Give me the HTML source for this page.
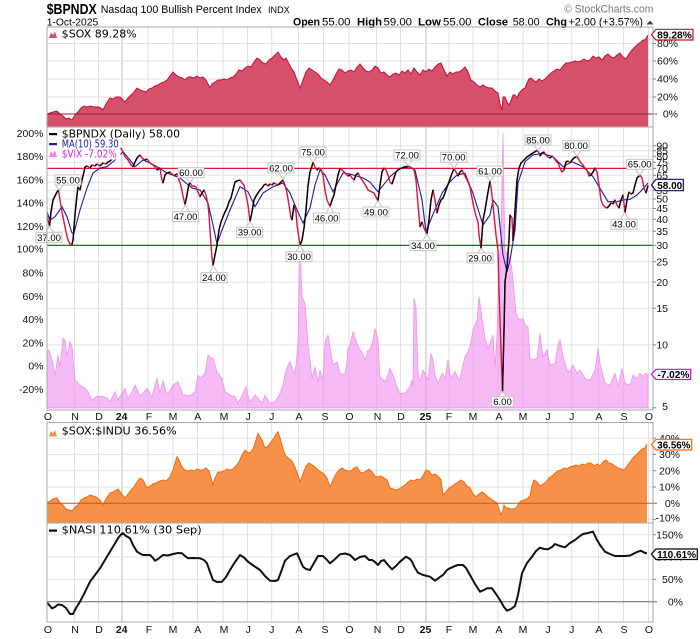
<!DOCTYPE html>
<html><head><meta charset="utf-8"><style>
html,body{margin:0;padding:0;background:#fff;}
svg{display:block;}
.ax{font-family:"Liberation Sans",Arial,sans-serif;font-size:10.5px;fill:#111;}
.lg{font-family:"DejaVu Sans","Liberation Sans",sans-serif;font-size:11px;}
.cl{font-family:"Liberation Sans",Arial,sans-serif;font-size:9.5px;fill:#000;text-anchor:middle;}
.vb{font-family:"Liberation Sans",Arial,sans-serif;font-size:10.5px;font-weight:bold;fill:#000;text-anchor:middle;}
</style></head><body>
<svg width="700" height="639" viewBox="0 0 700 639" xmlns="http://www.w3.org/2000/svg">
<rect width="700" height="639" fill="#fff"/>

<!-- Header -->
<g font-family="Liberation Sans, Arial, sans-serif" fill="#000">
<text x="46.7" y="14" font-size="14.5" font-weight="bold" textLength="50" lengthAdjust="spacingAndGlyphs">$BPNDX</text>
<text x="100.7" y="12.8" font-size="11" textLength="161" lengthAdjust="spacingAndGlyphs">Nasdaq 100 Bullish Percent Index</text>
<text x="268" y="12.8" font-size="9" textLength="21.7" lengthAdjust="spacingAndGlyphs">INDX</text>
<text x="46.7" y="25.5" font-size="10.5" textLength="51.5" lengthAdjust="spacingAndGlyphs">1-Oct-2025</text>
<text x="293" y="25.6" font-size="11" font-weight="bold" textLength="27" lengthAdjust="spacingAndGlyphs">Open</text>
<text x="322" y="25.6" font-size="11" textLength="28.5" lengthAdjust="spacingAndGlyphs">55.00</text>
<text x="357" y="25.6" font-size="11" font-weight="bold" textLength="25" lengthAdjust="spacingAndGlyphs">High</text>
<text x="383.5" y="25.6" font-size="11" textLength="28.5" lengthAdjust="spacingAndGlyphs">59.00</text>
<text x="418" y="25.6" font-size="11" font-weight="bold" textLength="23" lengthAdjust="spacingAndGlyphs">Low</text>
<text x="443" y="25.6" font-size="11" textLength="28.5" lengthAdjust="spacingAndGlyphs">55.00</text>
<text x="478" y="25.6" font-size="11" font-weight="bold" textLength="30" lengthAdjust="spacingAndGlyphs">Close</text>
<text x="512.7" y="25.6" font-size="11" textLength="27" lengthAdjust="spacingAndGlyphs">58.00</text>
<text x="546" y="25.6" font-size="11" font-weight="bold" textLength="21" lengthAdjust="spacingAndGlyphs">Chg</text>
<text x="568.5" y="25.6" font-size="11" textLength="74.5" lengthAdjust="spacingAndGlyphs">+2.00 (+3.57%)</text>
<polygon points="646.5,24.5 650,20.5 653.5,24.5" fill="#444"/>
<text x="564.3" y="12.3" font-size="11" fill="#777" textLength="89" lengthAdjust="spacingAndGlyphs">© StockCharts.com</text>
</g>

<!-- Vertical gridlines -->
<path d="M74.5,27V410M98.5,27V410M148,27V410M173,27V410M197.5,27V410M223,27V410M247.5,27V410M271.7,27V410M298.5,27V410M323.5,27V410M349,27V410M376.5,27V410M400.5,27V410M449,27V410M473,27V410M498,27V410M523,27V410M548,27V410M571.7,27V410M598.5,27V410M623.5,27V410M648.5,27V410
M74.5,422.5V622M98.5,422.5V622M148,422.5V622M173,422.5V622M197.5,422.5V622M223,422.5V622M247.5,422.5V622M271.7,422.5V622M298.5,422.5V622M323.5,422.5V622M349,422.5V622M376.5,422.5V622M400.5,422.5V622M449,422.5V622M473,422.5V622M498,422.5V622M523,422.5V622M548,422.5V622M571.7,422.5V622M598.5,422.5V622M623.5,422.5V622M648.5,422.5V622" stroke="#e2e2e2" stroke-width="1" fill="none"/>
<path d="M122,27V410M426,27V410M122,422.5V622M426,422.5V622" stroke="#bdbdbd" stroke-width="1" fill="none"/>

<!-- Horizontal gridlines -->
<path d="M47,43.5H653M47,61H653M47,79H653M47,97H653
M47,145.7H653M47,150.8H653M47,156.3H653M47,162.2H653M47,175.2H653M47,182.4H653M47,190.3H653M47,199H653M47,208.5H653M47,219.2H653M47,231.3H653M47,261.8H653M47,282.1H653M47,308.2H653M47,344.9H653M47,407.8H653
M47,438.1H653M47,454.4H653M47,470.7H653M47,487H653M47,519.6H653
M47,534.7H653M47,557H653M47,579.4H653" stroke="#e2e2e2" stroke-width="1" fill="none"/>

<!-- TOP PANEL: $SOX -->
<polygon fill="#d6506a" points="47,127 47,114 50,113 53,112 57,111 60,114 63,116 66,119 69,118 72,120 75,115 78,112 81,108 84,106 87,107 90,106 94,107 98,107 101,108 103,110 106,104 110,98 113,99 116,97 120,97 122,99 125,102 128,98 131,95 134,92 137,88 140,90 143,91 146,92 149,89 152,88 155,86 158,85 161,83 164,82 167,80 170,76 173,72 176,75 179,77 182,78 185,80 188,77 191,77 194,78 197,76 200,78 203,77 206,80 208,84 210,88 212,84 215,82 218,80 221,80 224,79 227,80 230,78 233,77 236,74 239,70 242,71 245,68 248,66 251,67 254,62 257,58 260,60 263,63 266,64 269,60 272,58 275,55 278,52 281,57 284,60 286,58 288,62 291,68 294,72 297,80 300,88 303,80 306,72 309,68 312,70 315,72 318,74 321,78 324,80 327,82 330,85 333,80 336,74 339,69 342,70 345,73 348,71 351,70 354,72 357,67 360,64 363,68 366,71 369,72 372,70 375,66 378,68 381,73 384,72 387,75 390,77 393,74 396,73 399,75 402,71 405,73 408,70 411,74 414,68 417,72 420,75 423,70 426,72 429,69 432,71 435,67 438,64 441,63 444,70 447,76 450,72 453,74 456,72 459,72 462,70 465,67 468,72 471,80 474,82 477,85 480,87 483,85 486,87 489,88 492,88 495,91 498,93 500,104 502,110 503,97 505,97 507,102 509,105 511,101 513,95 515,95 517,98 519,93 521,91 523,89 525,88 527,83 529,79 531,78 533,80 536,82 539,79 542,81 545,79 548,76 551,73 554,71 557,69 560,70 563,66 566,63 569,63 572,62 575,61 578,62 581,61 584,59 587,61 590,60 593,56 596,58 599,57 602,60 605,56 608,54 611,57 614,58 617,55 620,53 623,57 626,59 629,54 632,50 635,47 638,44 641,42 643,40 645,40 648,35 648,127"/>
<polyline fill="none" stroke="#c0103a" stroke-width="1" points="47,114 50,113 53,112 57,111 60,114 63,116 66,119 69,118 72,120 75,115 78,112 81,108 84,106 87,107 90,106 94,107 98,107 101,108 103,110 106,104 110,98 113,99 116,97 120,97 122,99 125,102 128,98 131,95 134,92 137,88 140,90 143,91 146,92 149,89 152,88 155,86 158,85 161,83 164,82 167,80 170,76 173,72 176,75 179,77 182,78 185,80 188,77 191,77 194,78 197,76 200,78 203,77 206,80 208,84 210,88 212,84 215,82 218,80 221,80 224,79 227,80 230,78 233,77 236,74 239,70 242,71 245,68 248,66 251,67 254,62 257,58 260,60 263,63 266,64 269,60 272,58 275,55 278,52 281,57 284,60 286,58 288,62 291,68 294,72 297,80 300,88 303,80 306,72 309,68 312,70 315,72 318,74 321,78 324,80 327,82 330,85 333,80 336,74 339,69 342,70 345,73 348,71 351,70 354,72 357,67 360,64 363,68 366,71 369,72 372,70 375,66 378,68 381,73 384,72 387,75 390,77 393,74 396,73 399,75 402,71 405,73 408,70 411,74 414,68 417,72 420,75 423,70 426,72 429,69 432,71 435,67 438,64 441,63 444,70 447,76 450,72 453,74 456,72 459,72 462,70 465,67 468,72 471,80 474,82 477,85 480,87 483,85 486,87 489,88 492,88 495,91 498,93 500,104 502,110 503,97 505,97 507,102 509,105 511,101 513,95 515,95 517,98 519,93 521,91 523,89 525,88 527,83 529,79 531,78 533,80 536,82 539,79 542,81 545,79 548,76 551,73 554,71 557,69 560,70 563,66 566,63 569,63 572,62 575,61 578,62 581,61 584,59 587,61 590,60 593,56 596,58 599,57 602,60 605,56 608,54 611,57 614,58 617,55 620,53 623,57 626,59 629,54 632,50 635,47 638,44 641,42 643,40 645,40 648,35"/>
<line x1="47" y1="114" x2="657" y2="114" stroke="#8a2040" stroke-width="1"/>

<!-- MAIN PANEL: VIX area -->
<path fill="#ee82ee" fill-opacity="0.55" stroke="#ee82ee" stroke-opacity="0.8" stroke-width="0.8" d="M47,408 L47,351.7 49,350 52,360 55,375 58,355 60,366.7 63,338.3 65,340 67,356.7 70,341.7 72,346.7 75,380 78,383 82,386.7 85,388 88,391.7 92,400 97,396 103,396.7 107,398 110,401.7 115,391.7 118,400 121,395 125,388.3 128,398.3 132,392 135,385 140,396 144,392 147,388.3 152,396.7 155,385 157,378.3 160,393.3 163,380 166,392 168,393.3 173,385 178,381.7 183,395 187,395 190,396 195,391.7 198,375 200,378 202,376.7 205,373.3 208,355 211,358 213,358.3 217,371.7 222,378.3 225,391.7 230,395 235,396.7 238,403.3 243,393.3 246,386.7 248,395 250,401.7 255,395 258,398 262,403.3 265,395 270,403.3 275,401.7 280,393.3 283,385 285,375 288,365 290,361.7 293,370 295,373.3 297,355 298,340 299,290 300,257 301,270 302,296.7 305,303.3 308,343.3 310,360 312,378.3 315,366.7 318,381.7 320,370 323,380 325,341.7 328,335 330,346.7 333,365 337,361.7 340,373.3 345,375 347,360 348,348.3 350,345 353,331.7 357,343.3 360,350 362,351.7 365,360 368,350 370,350 373,340 375,328.3 378,340 380,376.7 385,381.7 388,375 390,368.3 393,375 397,386.7 400,393.3 405,393.3 410,386.7 412,380 413,386.7 414,298.3 416,306.7 418,373.3 420,381.7 423,370 425,373.3 428,380 431,353.3 433,360 435,375 438,383.3 442,373.3 445,378.3 448,360 450,375 452,376.7 455,371.7 458,378 460,380 463,365 465,356.7 468,352 470,346.7 473,330 475,325 477,320 479,296.7 481,310 482,318.3 485,338.3 488,348.3 490,343.3 493,335 495,366.7 497,336.7 499,262 501,240 502,180 503,133 504,200 505,250 507,255 510,258 512,270 513,280 516,313.3 518,318 520,320 523,318.3 525,325 528,326.7 530,358.3 533,360 537,358.3 540,333.3 543,356.7 547,350 550,365 555,363.3 558,345 560,340 563,356.7 567,370 570,371.7 573,365 577,373.3 580,370 585,378.3 590,380 595,370 598,348.3 600,363.3 605,383.3 610,385 615,373.3 618,386.7 622,368.3 625,383.3 630,385 633,375 637,378.3 640,373.3 643,376.7 645,373.3 648,374.3 L648,408 Z"/>

<!-- reference lines -->
<line x1="47" y1="168.4" x2="653" y2="168.4" stroke="#dc143c" stroke-width="1.2"/>
<line x1="47" y1="245.3" x2="653" y2="245.3" stroke="#0b5a0b" stroke-width="1.1"/>

<!-- MA(10) -->
<polyline fill="none" stroke="#1c1c9c" stroke-width="1.1" points="47,212 50,220 55,216.7 62,206.7 67,216.7 72,233 74,233 80,210 87,188 93,173 100,168 107,166.7 115,160 123,151.7 130,160 135,166.7 143,160 150,163 157,166.7 167,173 180,178 192,188 200,190 208,203 213,225 217,244 222,230 230,210 240,186.7 248,191.7 255,206.7 263,193 273,186.7 283,183 290,193 297,210 303,223 310,208 315,185 320,170 325,175 333,191.7 343,173 350,174 363,178 370,182 378,191.7 390,176.7 400,168.3 410,166.7 415,170 422,200 426,231.7 432,216.7 442,193.3 450,181.7 457,175 465,173.3 473,193.3 483,225 490,215 493,200 498,206.7 503,255 507,272 510,260 515,230 518,183 525,161.7 533,155 542,153.3 553,156.7 563,166.7 572,161.7 583,166.7 593,176.7 602,191.7 608,201.7 617,201.7 623,200 630,199.3 637,195 642,190 648,183"/>

<!-- BPNDX base (red = down) -->
<polyline fill="none" stroke="#e0103c" stroke-width="1.4" stroke-linejoin="round" points="47,215 48,220 49.5,226.3 51,212 53,200 55,196 57,192 58.5,190.3 60,200 62,212 64,222 66,232 68,240 70,244 72,244.5 73,240 75,215 77,195 78,187 80,190 82,180 84,172 85,167 87,166 90,168 92,165 95,166 97,164 100,166 103,163 106,164 108,162 110,161 113,158 116,152 119,149 121,148.3 123,152 125,156.7 128,160 131,165 133,166.7 135,162 137,158 140,155 142,158 145,160 147,159 150,163 153,165 155,167 157,170 160,168 161.5,178 163,183 165,175 167,173 170,172 173,175 175,175 177,174 179,180 181,186 183,196 185,204.6 187,195 188.5,186 190,182.4 192,186 194,186 196,187 198,192 200,196.7 202,193 204,190 206,195 208,205 209,215 210,230 211,245 212,258 213,265.5 215,255 217,245 219,230 221,222 223,216.7 225,212 227,208 229,202 231,198 233,190 235,182 237,181 240,180 242,183 244,185 246,195 248,205 250,221.5 252,212 254,200 256,196 258,193 260,190 262,188 264,185 266,184 268,186 270,184 272,185 274,183 276,184 278,185 280,183 283,180 285,185 287,193 289,205 291,218 292,220 294,205 296,212 297,225 299,238 300,245.3 302,240 304,228 306,210 308,186 310,172 312,166 313,162.2 315,167 317,170 319,168 321,169 323,175 325,190 327,200 330,206.5 332,200 334,195 336,185 338,175 340,168.3 342,170 344,172 346,174 348,176 350,175 352,178 354,180 356,175 358,173 360,177 362,180 364,183 366,186 368,190 370,191 372,192 374,193 376,197 378,200.8 380,185 382,172 384,168 386,170 388,175 390,182 392,184 394,178 396,172 398,170 400,169 402,168 404,167 406,167 408,165.9 410,167 412,168 414,170 416,180 418,205 420,226.7 422,222 424,228 427,233.9 429,220 431,200 433,190 435,200 437,213 439,205 441,200 443,198 445,193 447,187 449,182 451,176 454,168.4 456,172 458,176 460,172 462,170 464,174 466,178 468,182 470,187 472,198 474,208 476,216 478,222 479,235 481,248.4 483,220 485,210 487,198 490,180.9 492,195 494,215 496,235 498,250 499,290 501,350 502.5,391.3 504,330 505,282 507,267 509,240 510,215 512,218 513,241 515,210 517,180 519,168 521,163 524,160 527,157 530,155 533,153 536,151 538,150.8 540,156 542,153 544,152 546,155 548,157 550,158 552,156 554,158 556,161 558,163 560,168 562,172 564,170 566,162 568,161 570,163 572,160 574,158 577,156.3 579,160 581,163 583,165 585,168 587,170 589,176 591,175 593,172 595,168 597,172 599,185 601,200 603,205 605,207 607,208 609,206 611,203 613,204 615,200 617,205 619,208 621,200 623,195 625,212.6 627,200 629,192 631,194 633,193 635,185 637,178 639,176 640,175.2 642,178 644,188 646,193 648,185.5"/>
<!-- BPNDX up runs (black) -->
<path fill="none" stroke="#000" stroke-width="1.4" stroke-linejoin="round" d="M49.5,226.3L51,212L53,200L55,196L57,192L58.5,190.3
M72,244.5L73,240L75,215L77,195L78,187
M80,190L82,180L84,172L85,167L87,166
M90,168L92,165 M95,166L97,164 M100,166L103,163
M106,164L108,162L110,161L113,158L116,152L119,149L121,148.3
M133,166.7L135,162L137,158L140,155
M145,160L147,159 M157,170L160,168
M163,183L165,175L167,173L170,172
M175,175L177,174
M185,204.6L187,195L188.5,186L190,182.4
M200,196.7L202,193L204,190
M213,265.5L215,255L217,245L219,230L221,222L223,216.7L225,212L227,208L229,202L231,198L233,190L235,182L237,181L240,180
M250,221.5L252,212L254,200L256,196L258,193L260,190L262,188L264,185L266,184
M268,186L270,184 M272,185L274,183 M278,185L280,183L283,180
M292,220L294,205
M300,245.3L302,240L304,228L306,210L308,186L310,172L312,166L313,162.2
M317,170L319,168
M330,206.5L332,200L334,195L336,185L338,175L340,168.3
M348,176L350,175 M354,180L356,175L358,173
M378,200.8L380,185L382,172L384,168
M392,184L394,178L396,172L398,170L400,169L402,168L404,167L406,167L408,165.9
M420,226.7L422,222
M427,233.9L429,220L431,200L433,190
M437,213L439,205L441,200L443,198L445,193L447,187L449,182L451,176L454,168.4
M458,176L460,172L462,170
M481,248.4L483,220L485,210L487,198L490,180.9
M502.5,391.3L504,330L505,282L507,267L509,240L510,215
M513,241L515,210L517,180L519,168L521,163L524,160L527,157L530,155L533,153L536,151L538,150.8
M540,156L542,153L544,152 M550,158L552,156
M564,170L566,162L568,161
M570,163L572,160L574,158L577,156.3
M589,176L591,175L593,172L595,168
M607,208L609,206L611,203 M613,204L615,200
M619,208L621,200L623,195
M625,212.6L627,200L629,192
M631,194L633,193L635,185L637,178L639,176L640,175.2
M646,193L648,185.5"/>

<!-- Callouts -->
<g fill="#fff" stroke="#c4c4c4" stroke-width="1">
<polyline points="45.5,232.7 49.5,226.3 53.5,232.7"/><rect x="36" y="232.7" width="26" height="10"/>
<polyline points="55.5,185 59.5,190.3 63.5,185"/><rect x="55" y="175" width="26" height="10"/>
<polyline points="186,177.7 190,182.4 194,177.7"/><rect x="178" y="167.7" width="26" height="10"/>
<polyline points="181.5,211.7 185.5,204.6 189.5,211.7"/><rect x="172.5" y="211.7" width="26" height="10"/>
<polyline points="246,227.3 250,221.5 254,227.3"/><rect x="236.7" y="227.3" width="26" height="10"/>
<polyline points="279,173 283,179.5 287,173"/><rect x="268" y="163" width="26" height="10"/>
<polyline points="309,157 313,162.2 317,157"/><rect x="300" y="147" width="26" height="10"/>
<polyline points="326,213 330,206.5 334,213"/><rect x="313.5" y="213" width="26" height="10"/>
<polyline points="296,251.7 300,245.3 304,251.7"/><rect x="286" y="251.7" width="26" height="10"/>
<polyline points="209.5,272.7 213.5,265.5 217.5,272.7"/><rect x="201" y="272.7" width="26" height="10"/>
<polyline points="374,207 378,200.8 382,207"/><rect x="363" y="207" width="26" height="10"/>
<polyline points="404,160 408,165.9 412,160"/><rect x="394" y="150" width="26" height="10"/>
<polyline points="423,240.7 427,233.9 431,240.7"/><rect x="410" y="240.7" width="26" height="10"/>
<polyline points="450,162.3 454,168.4 458,162.3"/><rect x="440.7" y="152.3" width="26" height="10"/>
<polyline points="486,176 490,180.9 494,176"/><rect x="477" y="166" width="26" height="10"/>
<polyline points="477,253 481,248.4 485,253"/><rect x="467" y="253" width="26" height="10"/>
<polyline points="534,145 538,150.8 542,145"/><rect x="525" y="135" width="26" height="10"/>
<polyline points="573,150.7 577,156.3 581,150.7"/><rect x="563" y="140.7" width="26" height="10"/>
<polyline points="635.7,169.3 639.7,175.2 643.7,169.3"/><rect x="626.7" y="159.3" width="26" height="10"/>
<polyline points="620.7,219.3 624.7,212.6 628.7,219.3"/><rect x="611" y="219.3" width="26" height="10"/>
<polyline points="498.5,396.7 502.5,391.3 506.5,396.7"/><rect x="491.7" y="396.7" width="21.6" height="10"/>
</g>
<g class="cl">
<text x="49" y="241">37.00</text>
<text x="68" y="183.3">55.00</text>
<text x="191" y="176">60.00</text>
<text x="185.5" y="220">47.00</text>
<text x="249.7" y="235.6">39.00</text>
<text x="281" y="171.3">62.00</text>
<text x="313" y="155.3">75.00</text>
<text x="326.5" y="221.3">46.00</text>
<text x="299" y="260">30.00</text>
<text x="214" y="281">24.00</text>
<text x="376" y="215.3">49.00</text>
<text x="407" y="158.3">72.00</text>
<text x="423" y="249">34.00</text>
<text x="453.7" y="160.6">70.00</text>
<text x="490" y="174.3">61.00</text>
<text x="480" y="261.3">29.00</text>
<text x="538" y="143.3">85.00</text>
<text x="576" y="149">80.00</text>
<text x="639.7" y="167.6">65.00</text>
<text x="624" y="227.6">43.00</text>
<text x="502.5" y="405">6.00</text>
</g>

<!-- Main legend -->
<rect x="47.5" y="127.5" width="135" height="12.5" fill="#fff"/>
<rect x="47.5" y="139.5" width="73" height="20" fill="#fff"/>
<rect x="49" y="133" width="8" height="2.2" fill="#000"/>
<text class="lg" x="61.7" y="137.5" fill="#000" textLength="118.3" lengthAdjust="spacingAndGlyphs">$BPNDX (Daily) 58.00</text>
<rect x="49" y="143" width="8" height="2.2" fill="#1c1c9c"/>
<text class="lg" x="61.7" y="147.5" fill="#1c1c9c" textLength="57" lengthAdjust="spacingAndGlyphs">MA(10) 59.30</text>
<polygon points="49,157 51,151.5 53,154 55,150.5 57,157" fill="#ee82ee"/>
<text class="lg" x="61.7" y="157.5" fill="#e020e0" textLength="55" lengthAdjust="spacingAndGlyphs">$VIX -7.02%</text>

<!-- PANEL 3: $SOX:$INDU -->
<polygon fill="#f7914a" points="47,523 47,502.7 50,501 53,499 57,498 60,503 63,505 66,509 69,510 72,511 75,507 78,505 81,500 84,498 87,497 90,495 93,496 96,497 100,500 103,505 106,499 110,493 113,492 116,490 118,489 121,493 125,498 128,494 131,490 134,487 137,482 140,478 143,480 147,488 150,486 153,484 156,483 160,481 163,480 166,481 170,477 173,470 175,463 177,456.7 179,460 181,465 183,468 185,470 188,471 191,470 194,471 197,469 200,470 203,470 206,468 209,471 211,478 213,485 215,478 218,472 221,472 224,471 227,469 230,470 233,469 236,466 239,462 242,455 245,450 248,453 251,452 254,447 256,440 258,433.3 260,437 262,440 265,448 268,446 271,442 274,438 276,434 278,431.7 280,438 282,445 285,455 288,458 291,460 294,465 297,472 300,481.7 303,474 306,466 309,463 312,465 315,467 318,470 321,472 324,474 327,478 330,486.7 333,480 336,474 339,470 342,468 345,470 348,471 351,471 354,468 357,467 360,472 363,473 366,471 369,469 372,472 375,476 378,477 381,476 384,478 387,480 390,488 393,489 396,490 399,489 402,487 405,485 408,482 411,480 414,481 417,479 420,480 423,476 426,470 429,471 432,475 435,474 438,476 441,480 443,495 446,492 449,488 452,486 455,484 458,482 461,480 464,482 467,486 470,488 473,494 476,496.7 479,494 482,492 485,494 488,497 491,499 494,501 497,503 499,509 501,515 503,510 504,505 506,508 508,508 511,509 514,509 517,507 519,503 521,501 524,500 527,499 530,496 532,486 534,480 537,482 540,486 543,484 546,482 549,478 552,476 555,473 558,471 561,470 564,468 567,469 570,467 573,466 576,465 579,466 582,464 585,465 588,463 591,463 594,466 597,464 600,466 603,462 606,460 609,463 612,464 615,466 618,468 621,469 624,470 627,466 630,462 633,458 636,455 639,452 642,449 645,448 647,444 647,523"/>
<polyline fill="none" stroke="#f06a10" stroke-width="1" points="47,502.7 50,501 53,499 57,498 60,503 63,505 66,509 69,510 72,511 75,507 78,505 81,500 84,498 87,497 90,495 93,496 96,497 100,500 103,505 106,499 110,493 113,492 116,490 118,489 121,493 125,498 128,494 131,490 134,487 137,482 140,478 143,480 147,488 150,486 153,484 156,483 160,481 163,480 166,481 170,477 173,470 175,463 177,456.7 179,460 181,465 183,468 185,470 188,471 191,470 194,471 197,469 200,470 203,470 206,468 209,471 211,478 213,485 215,478 218,472 221,472 224,471 227,469 230,470 233,469 236,466 239,462 242,455 245,450 248,453 251,452 254,447 256,440 258,433.3 260,437 262,440 265,448 268,446 271,442 274,438 276,434 278,431.7 280,438 282,445 285,455 288,458 291,460 294,465 297,472 300,481.7 303,474 306,466 309,463 312,465 315,467 318,470 321,472 324,474 327,478 330,486.7 333,480 336,474 339,470 342,468 345,470 348,471 351,471 354,468 357,467 360,472 363,473 366,471 369,469 372,472 375,476 378,477 381,476 384,478 387,480 390,488 393,489 396,490 399,489 402,487 405,485 408,482 411,480 414,481 417,479 420,480 423,476 426,470 429,471 432,475 435,474 438,476 441,480 443,495 446,492 449,488 452,486 455,484 458,482 461,480 464,482 467,486 470,488 473,494 476,496.7 479,494 482,492 485,494 488,497 491,499 494,501 497,503 499,509 501,515 503,510 504,505 506,508 508,508 511,509 514,509 517,507 519,503 521,501 524,500 527,499 530,496 532,486 534,480 537,482 540,486 543,484 546,482 549,478 552,476 555,473 558,471 561,470 564,468 567,469 570,467 573,466 576,465 579,466 582,464 585,465 588,463 591,463 594,466 597,464 600,466 603,462 606,460 609,463 612,464 615,466 618,468 621,469 624,470 627,466 630,462 633,458 636,455 639,452 642,449 645,448 647,444"/>
<line x1="47" y1="503.3" x2="657" y2="503.3" stroke="#b85a20" stroke-width="1"/>
<polygon points="49,436.5 51,431 53,433.5 55,430 57,436.5" fill="#f7914a"/>
<text class="lg" x="61.7" y="434.3" fill="#000" textLength="115" lengthAdjust="spacingAndGlyphs">$SOX:$INDU 36.56%</text>

<!-- PANEL 4: $NASI -->
<line x1="47" y1="601.7" x2="657" y2="601.7" stroke="#666" stroke-width="1"/>
<polyline fill="none" stroke="#111" stroke-width="2" stroke-linejoin="round" points="47,602.7 50,606 52,608.3 55,607 58,604.5 62,605 66,608 70,614 73,614 76,608 80,601.7 85,592 90,581.7 95,575 100,568.3 105,560 110,551.7 114,545 118,538.3 121,534.5 123,533.3 126,536 130,538.3 133,545 137,551.7 140,553.5 143,555 147,555 150,555 153,558 155,560.7 158,559 163,555 168,555.5 173,554 178,553 182,553.3 185,556 188,558.3 193,558 200,558.3 204,560 207,563.3 210,572 213,580 217,582 222,581.7 226,577 230,570 235,562 240,555 244,557.5 248,561.7 254,566 260,570 265,576 270,580.7 275,581 278,580 281,572 285,560.7 290,556 297,553.3 300,560 303,566.7 306,569 310,570 314,563 318,556 323,556 327,560 330,563.3 334,560 340,554.3 345,553.5 350,555 355,560 360,557 365,556 369,560 372,560 375,562 378,565 381,561 384,560 388,565 392,569.3 396,566 400,561.7 406,556.7 410,559 412,561.7 415,568 418,572.7 423,575 430,576.7 435,580.7 440,577 443,575 447,570 450,568.3 455,566 458,565 463,565 466,568 470,575 475,584 480,591.7 484,590 487,588.3 492,588.3 496,594 500,600 504,607 507,610.7 511,609 515,606 518,595 522,573.3 527,563 532,556.7 536,551 540,547.7 544,549 548,549.3 552,547 555,544 560,546 565,547.3 570,543 575,540 580,536 583,534 588,533 593,531.7 597,540 600,545 605,551.7 610,554 615,556 620,556 625,556 630,555.5 633,554 637,552 641,550.7 645,553 647,553.3"/>
<rect x="49" y="529.5" width="8" height="2.2" fill="#000"/>
<text class="lg" x="61.7" y="533.3" fill="#000" textLength="140" lengthAdjust="spacingAndGlyphs">$NASI 110.61% (30 Sep)</text>

<!-- Panel borders -->
<g fill="none" stroke="#a8a8a8" stroke-width="1">
<rect x="47" y="27" width="606" height="100"/>
<rect x="47" y="127" width="606" height="283"/>
<rect x="47" y="422.5" width="606" height="100.5"/>
<rect x="47" y="523" width="606" height="99"/>
</g>

<!-- Right axis ticks -->
<path d="M653,43.5h3M653,61h3M653,79h3M653,97h3M653,114h3
M653,145.7h3M653,150.8h3M653,156.3h3M653,162.2h3M653,168.4h3M653,175.2h3M653,182.4h3M653,190.3h3M653,199h3M653,208.5h3M653,219.2h3M653,231.3h3M653,245.3h3M653,261.8h3M653,282.1h3M653,308.2h3M653,344.9h3M653,407.8h3
M653,438.1h3M653,454.4h3M653,470.7h3M653,487h3M653,503.3h3M653,519.6h3
M653,534.7h3M653,557h3M653,579.4h3M653,601.7h3" stroke="#888" stroke-width="1" fill="none"/>

<!-- Right axis labels: top -->
<g class="ax" text-anchor="end">
<text x="678" y="47.2">80%</text>
<text x="678" y="64.7">60%</text>
<text x="678" y="82.7">40%</text>
<text x="678" y="100.7">20%</text>
<text x="678" y="117.7">0%</text>
</g>
<!-- Right axis labels: main -->
<g class="ax" text-anchor="end">
<text x="668" y="149.4">90</text>
<text x="668" y="154.5">85</text>
<text x="668" y="160">80</text>
<text x="668" y="165.9">75</text>
<text x="668" y="172.1">70</text>
<text x="668" y="178.9">65</text>
<text x="668" y="186.1">60</text>
<text x="668" y="194">55</text>
<text x="668" y="202.7">50</text>
<text x="668" y="212.2">45</text>
<text x="668" y="222.9">40</text>
<text x="668" y="235">35</text>
<text x="668" y="249">30</text>
<text x="668" y="265.5">25</text>
<text x="668" y="285.8">20</text>
<text x="668" y="311.9">15</text>
<text x="668" y="348.6">10</text>
<text x="668" y="410">5</text>
</g>
<!-- Left axis labels: main -->
<g class="ax" text-anchor="end">
<text x="43.5" y="137">200%</text>
<text x="43.5" y="160">180%</text>
<text x="43.5" y="183.5">160%</text>
<text x="43.5" y="206.7">140%</text>
<text x="43.5" y="230">120%</text>
<text x="43.5" y="252.5">100%</text>
<text x="43.5" y="276.5">80%</text>
<text x="43.5" y="299.8">60%</text>
<text x="43.5" y="323.2">40%</text>
<text x="43.5" y="346.4">20%</text>
<text x="43.5" y="369.7">0%</text>
<text x="43.5" y="393">-20%</text>
</g>
<!-- Right axis labels: panel 3 -->
<g class="ax" text-anchor="end">
<text x="680" y="441.8">40%</text>
<text x="680" y="458.1">30%</text>
<text x="680" y="474.4">20%</text>
<text x="680" y="490.7">10%</text>
<text x="680" y="507">0%</text>
<text x="680" y="521.5">-10%</text>
</g>
<!-- Right axis labels: panel 4 -->
<g class="ax" text-anchor="end">
<text x="683" y="538.4">150%</text>
<text x="683" y="560.7">100%</text>
<text x="683" y="583.1">50%</text>
<text x="683" y="605.4">0%</text>
</g>

<!-- Value boxes -->
<path d="M651.5,34.7L656,29.3H693V40H656Z" fill="#fff" stroke="#c8102e" stroke-width="1.2"/>
<text class="vb" x="674.5" y="38.6" textLength="34.7" lengthAdjust="spacingAndGlyphs">89.28%</text>
<path d="M651.5,185L656,179.3H683.3V190.7H656Z" fill="#fff" stroke="#10105a" stroke-width="1.2"/>
<text class="vb" x="669.7" y="189" textLength="25" lengthAdjust="spacingAndGlyphs">58.00</text>
<path d="M651.5,374.3L656,369.3H690.7V379.5H656Z" fill="#fff" stroke="#e000e0" stroke-width="1.2"/>
<text class="vb" x="673.4" y="378.2" textLength="32" lengthAdjust="spacingAndGlyphs">-7.02%</text>
<path d="M651.5,444.7L656,439.3H691.7V450H656Z" fill="#fff" stroke="#f06a10" stroke-width="1.2"/>
<text class="vb" x="673.8" y="448.6" textLength="33" lengthAdjust="spacingAndGlyphs">36.56%</text>
<path d="M651.5,554.2L656,549H697.3V559.5H656Z" fill="#fff" stroke="#000" stroke-width="1.2"/>
<text class="vb" x="676.6" y="558.2" textLength="39" lengthAdjust="spacingAndGlyphs">110.61%</text>

<!-- Top panel legend -->
<polygon points="49,38 51,32.5 53,35 55,31.5 57,38" fill="#d6506a"/>
<text class="lg" x="61.7" y="37.7" fill="#000" textLength="75" lengthAdjust="spacingAndGlyphs">$SOX 89.28%</text>

<!-- X axis labels (main) -->
<g class="ax" text-anchor="middle">
<text x="48" y="420">O</text><text x="75" y="420">N</text><text x="99" y="420">D</text><text x="121.7" y="420" font-weight="bold">24</text><text x="149" y="420">F</text><text x="173" y="420">M</text><text x="197.7" y="420">A</text><text x="224" y="420">M</text><text x="248.3" y="420">J</text><text x="271.7" y="420">J</text><text x="299" y="420">A</text><text x="325" y="420">S</text><text x="349.5" y="420">O</text><text x="377.5" y="420">N</text><text x="401" y="420">D</text><text x="425.5" y="420" font-weight="bold">25</text><text x="449" y="420">F</text><text x="473" y="420">M</text><text x="499" y="420">A</text><text x="523" y="420">M</text><text x="548" y="420">J</text><text x="571.7" y="420">J</text><text x="599" y="420">A</text><text x="624" y="420">S</text><text x="649" y="420">O</text>
</g>
<!-- X axis labels (bottom) -->
<g class="ax" text-anchor="middle">
<text x="48" y="633">O</text><text x="75" y="633">N</text><text x="99" y="633">D</text><text x="121.7" y="633" font-weight="bold">24</text><text x="149" y="633">F</text><text x="173" y="633">M</text><text x="197.7" y="633">A</text><text x="224" y="633">M</text><text x="248.3" y="633">J</text><text x="271.7" y="633">J</text><text x="299" y="633">A</text><text x="325" y="633">S</text><text x="349.5" y="633">O</text><text x="377.5" y="633">N</text><text x="401" y="633">D</text><text x="425.5" y="633" font-weight="bold">25</text><text x="449" y="633">F</text><text x="473" y="633">M</text><text x="499" y="633">A</text><text x="523" y="633">M</text><text x="548" y="633">J</text><text x="571.7" y="633">J</text><text x="599" y="633">A</text><text x="624" y="633">S</text><text x="649" y="633">O</text>
</g>
</svg>
</body></html>
